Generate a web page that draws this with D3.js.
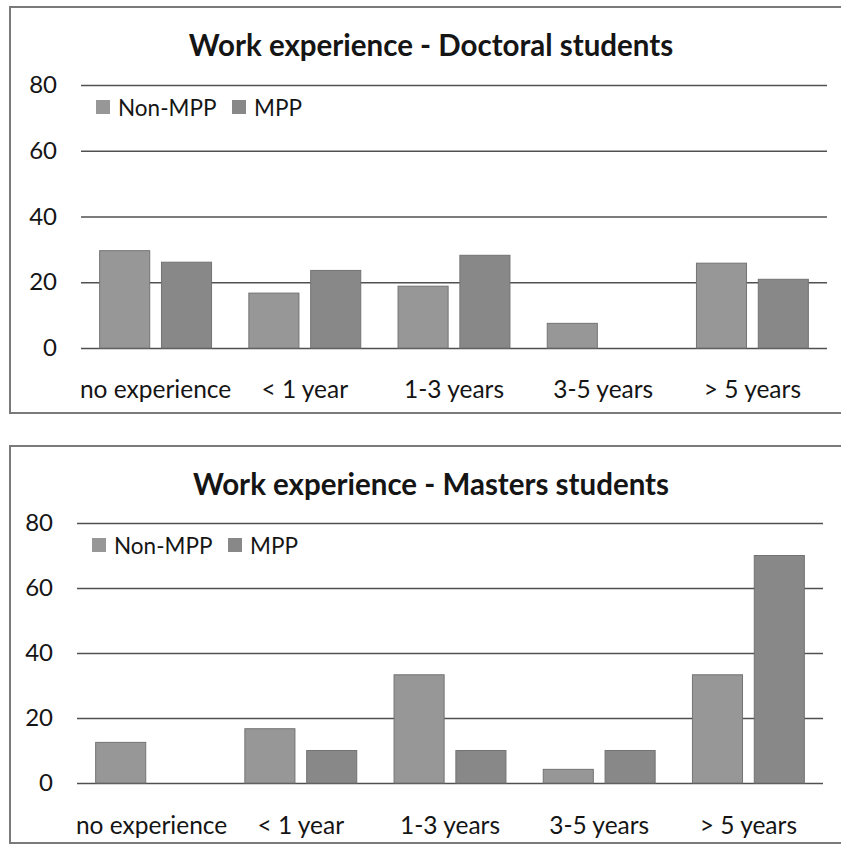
<!DOCTYPE html>
<html>
<head>
<meta charset="utf-8">
<script src="https://cdn.jsdelivr.net/npm/d3@7"></script>
<style>
  body { margin: 0; background: #fff; }
  text { font-family: Lato, "Open Sans", sans-serif; fill: #151515; }
</style>
</head>
<body>
<svg width="841" height="846"></svg>
<script>
// work experience bar charts, two panels

var categories = ["no experience", "< 1 year", "1-3 years", "3-5 years", "> 5 years"];
var seriesNames = ["Non-MPP", "MPP"];
var yTicks = [0, 20, 40, 60, 80];

var doctoralNonMpp = [29.6, 16.7, 18.8, 7.5, 25.8];
var doctoralMpp = [26.1, 23.6, 28.2, 0, 20.9];

var mastersNonMpp = [12.5, 16.7, 33.3, 4.2, 33.3];
var mastersMpp = [0, 10, 10, 10, 70];

var colors = {"Non-MPP": "#979797", "MPP": "#888888"};

var svg = d3.select("svg");

function drawChart(opts) {
  var g = svg.append("g");

  // frame
  g.append("rect")
    .attr("x", opts.frame[0])
    .attr("y", opts.frame[1])
    .attr("width", opts.frame[2])
    .attr("height", opts.frame[3])
    .attr("fill", "none")
    .attr("stroke", "#7a7a7a")
    .attr("stroke-width", 2);

  g.append("text")
    .attr("x", opts.titleX)
    .attr("y", opts.titleY)
    .attr("text-anchor", "middle")
    .attr("font-size", 29.5)
    .attr("font-weight", "bold")
    .text(opts.title);

  var x0 = d3.scaleBand()
    .domain(categories)
    .range([opts.left, opts.right])
    .paddingInner(0.25)
    .paddingOuter(0.125);

  var x1 = d3.scaleBand()
    .domain(seriesNames)
    .range([0, x0.bandwidth()])
    .paddingInner(0.19);

  var y = d3.scaleLinear()
    .domain([0, 80])
    .range([opts.bottom, opts.top]);

  // gridlines + y labels
  var yAxis = d3.axisLeft(y)
    .tickValues(yTicks)
    .tickSize(-(opts.right - opts.left))
    .tickPadding(24);

  var ya = g.append("g")
    .attr("transform", "translate(" + opts.left + ",0)")
    .call(yAxis);
  ya.select(".domain").remove();
  ya.selectAll("line").attr("stroke", "#505050").attr("stroke-width", 1.6);
  ya.selectAll("text")
    .attr("font-size", 24)
    .style("font-family", "Lato, sans-serif")
    .attr("fill", "#151515");

  var rows = categories.map(function (c, i) {
    return {cat: c, values: [
      {name: "Non-MPP", value: opts.nonMpp[i]},
      {name: "MPP", value: opts.mpp[i]}
    ]};
  });

  g.selectAll(".grp")
    .data(rows)
    .enter().append("g")
    .attr("class", "grp")
    .attr("transform", function (d) { return "translate(" + x0(d.cat) + ",0)"; })
    .selectAll("rect")
    .data(function (d) { return d.values.filter(function (v) { return v.value > 0; }); })
    .enter().append("rect")
    .attr("x", function (d) { return x1(d.name); })
    .attr("y", function (d) { return y(d.value); })
    .attr("width", x1.bandwidth())
    .attr("height", function (d) { return y(0) - y(d.value); })
    .attr("fill", function (d) { return colors[d.name]; })
    .attr("stroke", "#737373")
    .attr("stroke-width", 1);

  // x labels (no axis line besides the 0 gridline)
  var xAxis = d3.axisBottom(x0).tickSize(0).tickPadding(0);
  var xa = g.append("g")
    .attr("transform", "translate(0," + opts.labelY + ")")
    .call(xAxis);
  xa.select(".domain").remove();
  xa.selectAll("text")
    .attr("dy", 0)
    .attr("y", 0)
    .attr("font-size", 24.5)
    .style("font-family", "Lato, sans-serif")
    .attr("fill", "#151515");

  // legend
  var lx = opts.legend[0], ly = opts.legend[1];
  var lg = g.append("g").attr("transform", "translate(" + lx + "," + ly + ")");
  var offsets = [0, 136];
  seriesNames.forEach(function (s, i) {
    lg.append("rect")
      .attr("x", offsets[i])
      .attr("y", -14)
      .attr("width", 14)
      .attr("height", 14)
      .attr("fill", colors[s]);
    lg.append("text")
      .attr("x", offsets[i] + 22)
      .attr("y", 2)
      .attr("font-size", 22.5)
      .text(s);
  });
}

drawChart({
  title: "Work experience - Doctoral students",
  frame: [10, 7, 850, 406],
  titleX: 431, titleY: 56,
  left: 81, right: 827, top: 85, bottom: 348,
  labelY: 398,
  legend: [96, 114],
  nonMpp: doctoralNonMpp, mpp: doctoralMpp
});

drawChart({
  title: "Work experience - Masters students",
  frame: [10, 446, 850, 397],
  titleX: 431, titleY: 495,
  left: 77, right: 823, top: 523, bottom: 783,
  labelY: 834,
  legend: [92, 552],
  nonMpp: mastersNonMpp, mpp: mastersMpp
});
</script>
</body>
</html>
